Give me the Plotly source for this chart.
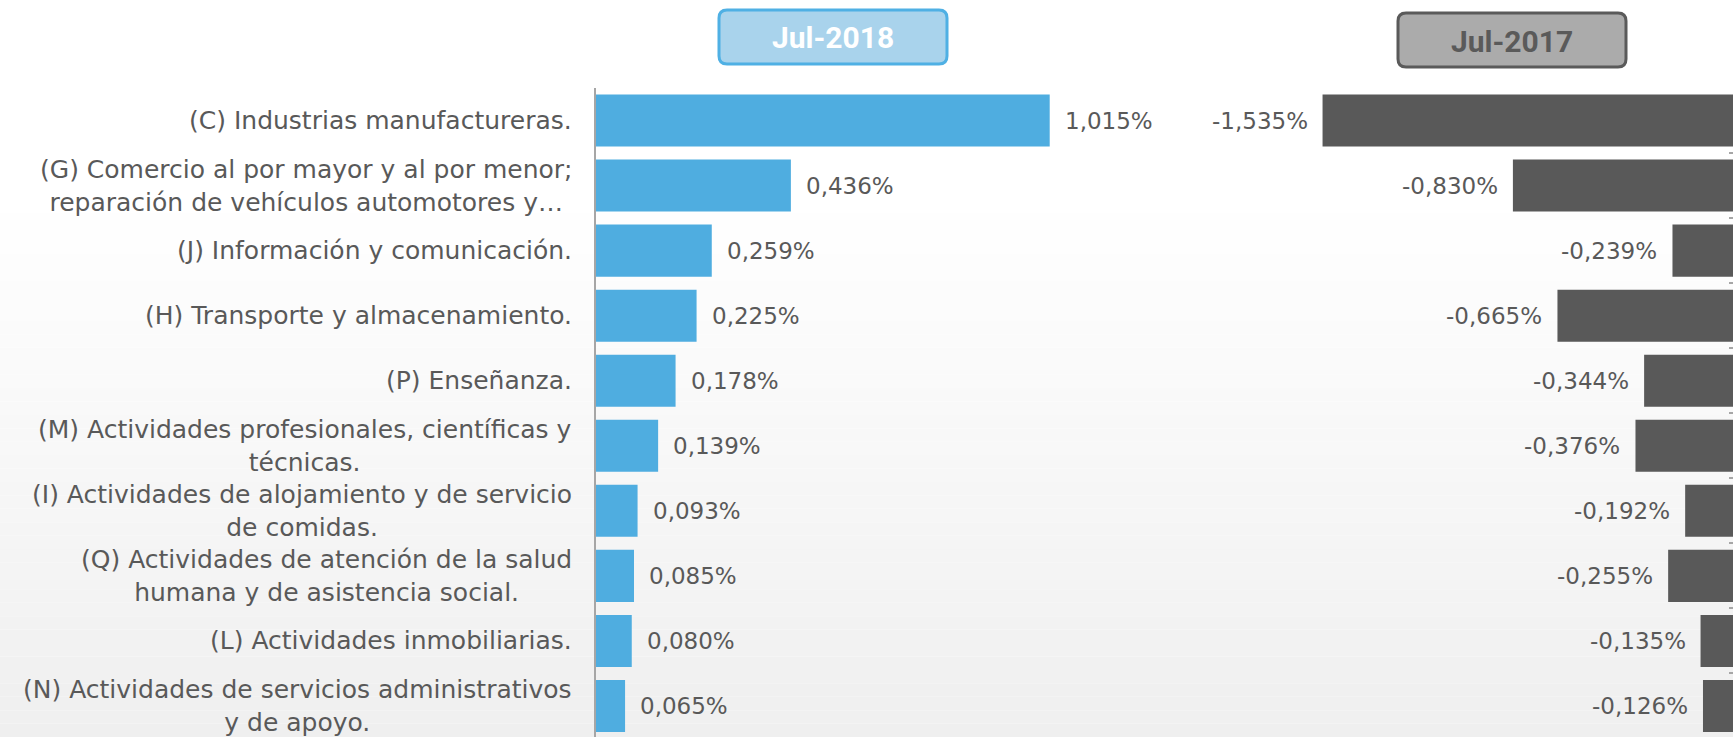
import plotly.graph_objects as go

categories = [
    "(C) Industrias manufactureras.",
    "(G) Comercio al por mayor y al por menor;<br>reparación de vehículos automotores y…",
    "(J) Información y comunicación.",
    "(H) Transporte y almacenamiento.",
    "(P) Enseñanza.",
    "(M) Actividades profesionales, científicas y<br>técnicas.",
    "(I) Actividades de alojamiento y de servicio<br>de comidas.",
    "(Q) Actividades de atención de la salud<br>humana y de asistencia social.",
    "(L) Actividades inmobiliarias.",
    "(N) Actividades de servicios administrativos<br>y de apoyo.",
]
values_2018 = [1.015, 0.436, 0.259, 0.225, 0.178, 0.139, 0.093, 0.085, 0.080, 0.065]
values_2017 = [-1.535, -0.830, -0.239, -0.665, -0.344, -0.376, -0.192, -0.255, -0.135, -0.126]
title_2018 = "Jul-2018"
title_2017 = "Jul-2017"

W, H = 1733, 737
TOP, BOT = 88, 0
PH = H - TOP - BOT
ROW = 65.05  # pixel height of one category row

BLUE = "#4FADE0"
GRAY = "#595959"
TXT = "#595959"
FONT = "DejaVu Sans"


def px_x(p):
    return p / W


def px_y(p):
    return (H - BOT - p) / PH


def fmt(v):
    return f"{v:.3f}".replace(".", ",") + "%"


fig = go.Figure()
fig.add_trace(go.Bar(y=categories, x=values_2018, orientation="h",
                     marker=dict(color=BLUE, line=dict(width=0)),
                     xaxis="x", yaxis="y", hoverinfo="skip"))
fig.add_trace(go.Bar(y=categories, x=values_2017, orientation="h",
                     marker=dict(color=GRAY, line=dict(width=0)),
                     xaxis="x2", yaxis="y2", hoverinfo="skip"))

annotations = []
for c, v in zip(categories, values_2018):
    annotations.append(dict(x=v, y=c, xref="x", yref="y", text=fmt(v), showarrow=False,
                            xanchor="left", yanchor="middle", xshift=13,
                            font=dict(family=FONT, size=23, color=TXT)))
    annotations.append(dict(x=px_x(574), y=c, xref="paper", yref="y", text=c, showarrow=False,
                            xanchor="right", yanchor="middle", align="center",
                            font=dict(family=FONT, size=25, color=TXT)))
for c, v in zip(categories, values_2017):
    annotations.append(dict(x=v, y=c, xref="x2", yref="y2", text=fmt(v), showarrow=False,
                            xanchor="right", yanchor="middle", xshift=-13,
                            font=dict(family=FONT, size=23, color=TXT)))


def rounded_rect(x0, y0, x1, y1, r):
    X0, X1 = px_x(x0), px_x(x1)
    Y0, Y1 = px_y(y0), px_y(y1)  # Y0 top (larger), Y1 bottom
    rx, ry = r / W, r / PH
    return (f"M {X0+rx},{Y0} L {X1-rx},{Y0} Q {X1},{Y0} {X1},{Y0-ry} "
            f"L {X1},{Y1+ry} Q {X1},{Y1} {X1-rx},{Y1} L {X0+rx},{Y1} "
            f"Q {X0},{Y1} {X0},{Y1+ry} L {X0},{Y0-ry} Q {X0},{Y0} {X0+rx},{Y0} Z")


shapes = []
# soft background gradient
n = 40
for i in range(n):
    y0p = 200 + i * (H - 200) / n
    y1p = 200 + (i + 1) * (H - 200) / n
    g = int(round(255 - 16 * (i + 0.5) / n))
    shapes.append(dict(type="rect", xref="paper", yref="paper", x0=0, x1=1,
                       y0=px_y(y1p), y1=px_y(y0p), line=dict(width=0),
                       fillcolor=f"rgb({g},{g},{g})", layer="below"))

shapes.append(dict(type="path", xref="paper", yref="paper",
                   path=rounded_rect(719, 10, 947, 64, 8),
                   fillcolor="#A9D3EC", line=dict(color="#4FB0E4", width=3)))
shapes.append(dict(type="path", xref="paper", yref="paper",
                   path=rounded_rect(1398, 13, 1626, 67, 8),
                   fillcolor="#ABABAB", line=dict(color="#5A5A5A", width=3)))
annotations.append(dict(x=px_x(833), y=px_y(38), xref="paper", yref="paper", text=f"<b>{title_2018}</b>",
                        showarrow=False, xanchor="center", yanchor="middle",
                        font=dict(family="Roboto", size=30, color="#FFFFFF")))
annotations.append(dict(x=px_x(1512), y=px_y(41), xref="paper", yref="paper", text=f"<b>{title_2017}</b>",
                        showarrow=False, xanchor="center", yanchor="middle",
                        font=dict(family="Roboto", size=30, color="#5A5A5A")))

left_scale = 447.0
right_scale = 270.0
lx0, lx1 = 596, 1100
rx0, rx1 = 1150, 1733
right_hi = -4 / right_scale  # zero sits just past the right edge
y_range = [-0.5 + PH / ROW, -0.5]

fig.update_layout(
    width=W, height=H,
    margin=dict(l=0, r=0, t=TOP, b=BOT, pad=0),
    paper_bgcolor="#FFFFFF", plot_bgcolor="rgba(0,0,0,0)",
    showlegend=False, bargap=0.2,
    xaxis=dict(domain=[px_x(lx0), px_x(lx1)], range=[0, (lx1 - lx0) / left_scale],
               visible=False, fixedrange=True),
    xaxis2=dict(domain=[px_x(rx0), 1], range=[right_hi - (rx1 - rx0) / right_scale, right_hi],
                visible=False, fixedrange=True),
    yaxis=dict(anchor="x", categoryorder="array", categoryarray=categories, range=y_range,
               showticklabels=False, showgrid=False, zeroline=False, ticks="",
               showline=True, linecolor="#A6A6A6", linewidth=1.5, fixedrange=True),
    yaxis2=dict(anchor="x2", side="right", categoryorder="array", categoryarray=categories,
                range=y_range, showticklabels=False, showgrid=False, zeroline=False,
                ticks="inside", tickson="boundaries", ticklen=4, tickcolor="#A6A6A6", tickwidth=1.5,
                showline=False, fixedrange=True),
    annotations=annotations,
    shapes=shapes,
)

fig.write_html("out.html", config={"displayModeBar": False},
               post_script="document.body.style.margin='0';document.body.style.overflow='hidden';")
